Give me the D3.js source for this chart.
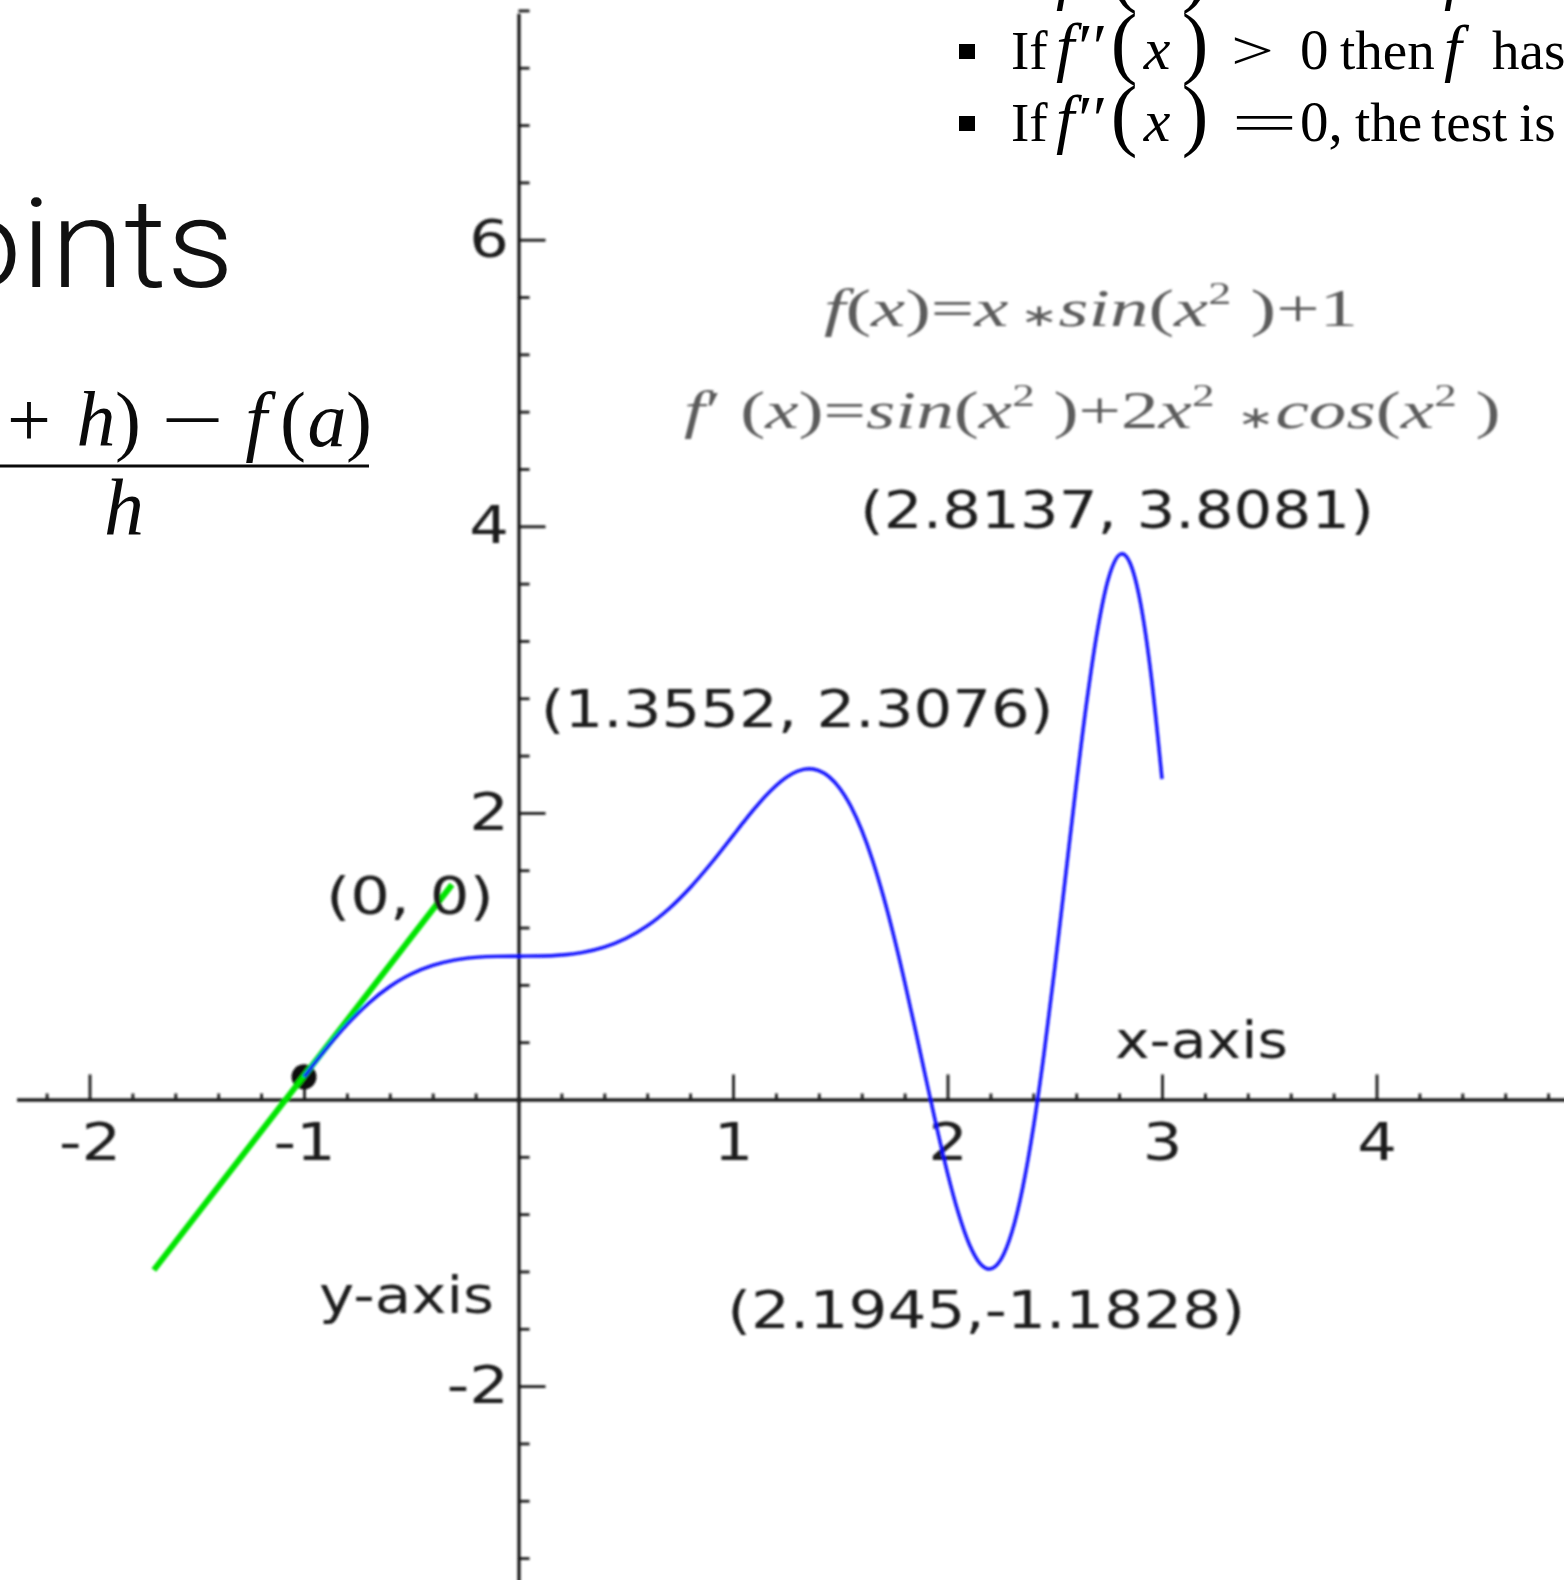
<!DOCTYPE html>
<html>
<head>
<meta charset="utf-8">
<script src="https://cdn.jsdelivr.net/npm/d3@7"></script>
<style>
  html, body { margin: 0; padding: 0; background: #fff; overflow: hidden; }
  svg { display: block; }
</style>
</head>
<body>
<svg id="chart" width="1564" height="1580"></svg>
<script>
// ---- data -------------------------------------------------------------
// f(x) = x*sin(x^2) + 1, sampled along the plotted range
const curveX = [-1, -0.9, -0.8, -0.7, -0.6, -0.5, -0.4, -0.3, -0.2, -0.1,
  0, 0.1, 0.2, 0.3, 0.4, 0.5, 0.6, 0.7, 0.8, 0.9,
  1.0, 1.05, 1.1, 1.15, 1.2, 1.25, 1.3, 1.3552, 1.4, 1.45,
  1.5, 1.55, 1.6, 1.65, 1.7, 1.75, 1.8, 1.85, 1.9, 1.95,
  2.0, 2.05, 2.1, 2.15, 2.1945, 2.25, 2.3, 2.35, 2.4, 2.45,
  2.5, 2.55, 2.6, 2.65, 2.7, 2.75, 2.8137, 2.85, 2.9, 2.95, 3.0];
const curveY = [0.1585, 0.3481, 0.5222, 0.6706, 0.7886, 0.8763, 0.9363, 0.9730, 0.9920, 0.9990,
  1.0, 1.0010, 1.0080, 1.0270, 1.0637, 1.1237, 1.2114, 1.3294, 1.4778, 1.6519,
  1.8415, 1.9370, 2.0292, 2.1147, 2.1897, 2.2500, 2.2908, 2.3076, 2.2953, 2.2498,
  2.1671, 2.0441, 1.8790, 1.6715, 1.4232, 1.1383, 0.8232, 0.4871, 0.1422, -0.1970,
  -0.5136, -0.7892, -1.0047, -1.1413, -1.1828, -1.1135, -0.9269, -0.6201, -0.1992, 0.3213,
  0.9170, 1.5548, 2.1933, 2.7855, 3.2818, 3.6340, 3.8081, 3.7479, 3.4631, 2.9502, 2.2364];

// tangent segment at x = -1 and its point of contact
const tangentX = [-1.70, -0.31];
const tangentY = [-1.19, 1.50];
const contactX = -1;
const contactY = 0.1585;

// labelled extrema
const extremaText = ["(2.8137, 3.8081)", "(1.3552, 2.3076)", "(2.1945,-1.1828)"];
const extremaX = [2.8137, 1.3552, 2.1945];
const extremaY = [3.8081, 2.3076, -1.1828];

// axes
const xTicks = [-2, -1, 1, 2, 3, 4];
const yTicks = [-2, 2, 4, 6];
const xExtent = [-2.34, 4.9];
const yExtent = [-3.4, 7.58];
const xAxisLabel = "x-axis";
const yAxisLabel = "y-axis";
const originLabel = "(0, 0)";

// ---- scales -----------------------------------------------------------
const x = d3.scaleLinear().domain([-2, 4]).range([89.5, 1376.5]);
const y = d3.scaleLinear().domain([-2, 6]).range([1386.1, 239.7]);
const xAxisScale = x.copy().domain(xExtent).range(xExtent.map(x));
const yAxisScale = y.copy().domain(yExtent).range(yExtent.map(y));

const svg = d3.select("#chart");
svg.append("rect").attr("width", 1564).attr("height", 1580).attr("fill", "#fff");

const defs = svg.append("defs");
defs.append("filter").attr("id", "soft")
  .attr("x", "-5%").attr("y", "-5%").attr("width", "110%").attr("height", "110%")
  .append("feGaussianBlur").attr("stdDeviation", 0.85);

// stretch a text horizontally so that it spans [x0, x1]
function fitText(sel, x0, x1) {
  const b = sel.node().getBBox();
  const s = (x1 - x0) / b.width;
  sel.attr("transform", `translate(${x0},0) scale(${s},1) translate(${-b.x},0)`);
  return sel;
}

// text made of styled runs: {t, it, sup, small}
function richText(parent, runs, baseline, size, opts) {
  const t = parent.append("text")
    .attr("x", 0).attr("y", baseline)
    .attr("font-family", opts.family)
    .attr("font-size", size)
    .attr("fill", opts.fill)
    .attr("xml:space", "preserve");
  let raised = false;
  runs.forEach(r => {
    const ts = t.append("tspan").text(r.t);
    if (r.it) ts.attr("font-style", "italic");
    if (r.small) ts.attr("font-size", size * r.small);
    if (r.sup) {
      ts.attr("font-size", size * 0.6).attr("dy", -size * 0.42);
      raised = true;
    } else if (raised) {
      ts.attr("dy", size * 0.42);
      raised = false;
    }
  });
  return t;
}

// ---- plot -------------------------------------------------------------
const plot = svg.append("g").attr("filter", "url(#soft)");

const axisColor = "#1a1a1a";
const chartFont = "DejaVu Sans";

// x axis: line, major ticks pointing up, labels below
const gx = plot.append("g").attr("transform", `translate(0,${y(0)})`)
  .call(d3.axisBottom(xAxisScale).tickValues(xTicks).tickSize(-25).tickSizeOuter(0)
    .tickPadding(24).tickFormat(d => String(d)));
const xMinor = d3.range(-2.2, 4.81, 0.2).map(v => +v.toFixed(1))
  .filter(v => Math.abs(v - Math.round(v)) > 1e-6);
const gxm = plot.append("g").attr("transform", `translate(0,${y(0)})`)
  .call(d3.axisBottom(xAxisScale).tickValues(xMinor).tickSize(-6).tickFormat(""));
gxm.select(".domain").remove();

// y axis: line, ticks pointing right, labels on the left
const gy = plot.append("g").attr("transform", `translate(${x(0)},0)`)
  .call(d3.axisLeft(yAxisScale).tickValues(yTicks).tickSize(-27).tickSizeOuter(0)
    .tickPadding(8).tickFormat(d => String(d)));
const yMinor = d3.range(-3.2, 7.61, 0.4).map(v => +v.toFixed(1))
  .filter(v => Math.abs(v) > 1e-6 && Math.abs(v / 2 - Math.round(v / 2)) > 1e-6);
const gym = plot.append("g").attr("transform", `translate(${x(0)},0)`)
  .call(d3.axisLeft(yAxisScale).tickValues(yMinor).tickSize(-11).tickFormat(""));
gym.select(".domain").remove();

[gx, gxm, gy, gym].forEach(g => {
  g.select(".domain").attr("stroke", axisColor).attr("stroke-width", 3.4);
  g.selectAll(".tick line").attr("stroke", axisColor).attr("stroke-width", 2.8);
  g.selectAll(".tick text")
    .attr("font-family", chartFont).attr("font-size", 52).attr("fill", "#1e1e1e")
    .attr("transform", "scale(1.2,1)");
  g.attr("font-family", null).attr("font-size", null);
});

// contact point, tangent and curve
plot.append("circle")
  .attr("cx", x(contactX)).attr("cy", y(contactY)).attr("r", 12.5)
  .attr("fill", "#111");

plot.append("line")
  .attr("x1", x(tangentX[0])).attr("y1", y(tangentY[0]))
  .attr("x2", x(tangentX[1])).attr("y2", y(tangentY[1]))
  .attr("stroke", "#00e400").attr("stroke-width", 6);

const line = d3.line().x(d => x(d[0])).y(d => y(d[1])).curve(d3.curveMonotoneX);
plot.append("path")
  .datum(curveX.map((v, i) => [v, curveY[i]]))
  .attr("d", line)
  .attr("fill", "none").attr("stroke", "#0a0aff").attr("stroke-width", 3.4);

// labels on the plot
function plotLabel(text, x0, x1, baseline) {
  const t = plot.append("text").attr("x", 0).attr("y", baseline)
    .attr("font-family", chartFont).attr("font-size", 52).attr("fill", "#1e1e1e")
    .text(text);
  return fitText(t, x0, x1);
}
// placement of each extremum label relative to its point: [centre dx, width, baseline dy]
const extremaPlacement = [[-5, 514, -26], [-12, 513, -42], [-3, 518, 59]];
extremaText.forEach((txt, i) => {
  const [dx, w, dy] = extremaPlacement[i];
  const cx = x(extremaX[i]) + dx;
  plotLabel(txt, cx - w / 2, cx + w / 2, y(extremaY[i]) + dy);
});
plotLabel(originLabel, 326, 494, 914);
plotLabel(xAxisLabel, 1115, 1288, 1058);
plotLabel(yAxisLabel, 319, 494, 1313);

// function and derivative in grey
const formulaOpts = { family: "Liberation Serif", fill: "#5c5c5c" };
const f1 = richText(plot, [
  { t: "f", it: 1 }, { t: "(" }, { t: "x", it: 1 }, { t: ")=" }, { t: "x", it: 1 },
  { t: " \u2217", small: 0.6 }, { t: "sin", it: 1 }, { t: "(" }, { t: "x", it: 1 }, { t: "2", sup: 1 },
  { t: " )+1" }
], 326, 52, formulaOpts);
fitText(f1, 824, 1358);
const f2 = richText(plot, [
  { t: "f", it: 1 }, { t: "\u2032 (" }, { t: "x", it: 1 }, { t: ")=" }, { t: "sin", it: 1 },
  { t: "(" }, { t: "x", it: 1 }, { t: "2", sup: 1 }, { t: " )+2" }, { t: "x", it: 1 },
  { t: "2", sup: 1 }, { t: "  \u2217", small: 0.6 }, { t: "cos", it: 1 }, { t: "(" }, { t: "x", it: 1 },
  { t: "2", sup: 1 }, { t: " )" }
], 428, 52, formulaOpts);
fitText(f2, 684, 1500);

// ---- slide text -------------------------------------------------------
const slide = svg.append("g");
const serif = "Liberation Serif";

// heading
const heading = slide.append("text")
  .attr("x", 0).attr("y", 287)
  .attr("font-family", "Roboto").attr("font-weight", 300).attr("font-size", 124)
  .attr("fill", "#111").text("points");
{
  const w = heading.node().getBBox().width;
  fitText(heading, 234 - w * 1.07, 234);
}

// difference quotient
function glyph(g, txt, cx, base, size, italic) {
  return g.append("text").attr("x", cx).attr("y", base).attr("text-anchor", "middle")
    .attr("font-family", serif).attr("font-size", size)
    .attr("font-style", italic ? "italic" : null).attr("fill", "#0a0a0a").text(txt);
}
const frac = slide.append("g");
[["f", -100, 1], ["(", -62, 0], ["a", -30, 1], ["+", 29, 0], ["h", 96, 1], [")", 128, 0],
 ["\u2212", 193, 0], ["f", 256, 1], ["(", 293, 0], ["a", 327, 1], [")", 359, 0]]
  .forEach(([t, cx, it]) => glyph(frac, t, cx, 446, 78, it));
frac.select("text:nth-child(7)").call(s => fitText(s, 161, 224));
frac.append("line").attr("x1", 0).attr("x2", 369).attr("y1", 466).attr("y2", 466)
  .attr("stroke", "#0a0a0a").attr("stroke-width", 3.2);
glyph(frac, "h", 124, 534, 80, 1);

// second-derivative test bullets
function bulletLine(base, rel, rhs, rest) {
  const g = slide.append("g");
  g.append("rect").attr("x", 959).attr("y", base - 25).attr("width", 16).attr("height", 15)
    .attr("fill", "#000");
  const put = (t, xx, size, opt = {}) => g.append("text")
    .attr("x", xx).attr("y", base).attr("text-anchor", opt.anchor || "start")
    .attr("font-family", serif).attr("font-size", size)
    .attr("font-style", opt.it ? "italic" : null).attr("fill", "#000").text(t);
  put("If", 1011, 55);
  put("f\u2032\u2032", 1056, 66, { it: 1 });
  put("(", 1124, 80, { anchor: "middle" });
  put("x", 1157, 60, { it: 1, anchor: "middle" });
  put(")", 1195, 80, { anchor: "middle" });
  const r = put(rel, 1260, 55, { anchor: "middle" });
  fitText(r, 1231, rel === "=" ? 1298 : 1274);
  put(rhs, 1300, 57);
  rest.forEach(([t, xx, it]) => put(t, xx, it ? 64 : 55, { it }));
}
bulletLine(-3, "<", "0", [["then", 1340], ["f", 1444, 1], ["has", 1492]]);
bulletLine(69, ">", "0", [["then", 1340], ["f", 1444, 1], ["has", 1492]]);
bulletLine(141, "=", "0,", [["the", 1355], ["test", 1431], ["is", 1519]]);
</script>
</body>
</html>
